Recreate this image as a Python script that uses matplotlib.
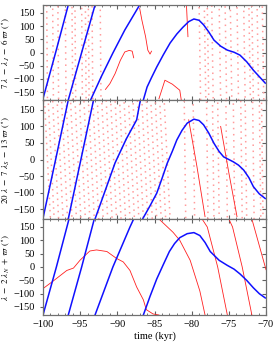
import matplotlib.pyplot as plt
import numpy as np

plt.rcParams['font.family'] = 'Liberation Serif'
plt.rcParams['mathtext.fontset'] = 'stix'

# blue resonant angle, one list of (time, angle) per wrap
blue_top = [
    ([-100, -98.3, -96.6], [-175, 0, 180]),
    ([-96.6, -94.8, -93.0], [-180, 0, 180]),
    ([-93.6, -92.1, -90.6, -89.0, -87.4, -87.0], [-180, -88, -2, 85, 161, 180]),
    ([-86.5, -86.0, -85.4, -84.7, -83.8, -82.9, -82.0, -81.2, -80.4, -79.7, -79.0, -78.4, -77.7,
      -77.0, -76.1, -75.2, -74.3, -73.5, -72.6, -71.7, -70.1],
     [-180, -131, -95, -55, -8, 36, 70, 95, 117, 127, 122, 105, 78, 47, 24, 9, 1, -10, -35, -67, -116]),
]
blue_mid = [
    ([-100, -98.3, -96.6], [-178, 0, 180]),
    ([-96.6, -94.9, -93.2], [-180, 0, 180]),
    ([-93.0, -91.6, -90.3, -88.8, -87.4, -86.9], [-180, -92, -10, 62, 120, 180]),
    ([-86.6, -85.6, -84.7, -84.0, -83.3, -82.6, -82.0, -81.3, -80.6, -79.7, -79.0, -78.4, -77.7,
      -77.0, -76.3, -75.7, -74.4, -73.7, -73.0, -72.3, -71.7, -70.9, -70.1],
     [-180, -140, -102, -58, -12, 25, 59, 88, 110, 122, 118, 105, 80, 49, 24, 8, -7, -17, -32, -55, -82, -104, -118]),
]
blue_bot = [
    ([-100, -98.2, -96.5], [-180, 0, 180]),
    ([-96.6, -94.8, -93.1], [-180, 0, 180]),
    ([-93.0, -90.6, -88.3, -87.8], [-180, 0, 150, 180]),
    ([-86.5, -85.6, -84.7, -83.8, -83.0, -82.3, -81.6, -80.6, -79.7, -78.9, -78.2, -77.5, -76.3,
      -75.2, -74.3, -73.5, -72.6, -71.7, -70.9, -70.1],
     [-180, -110, -45, 10, 58, 88, 110, 125, 129, 118, 92, 58, 25, 6, -8, -26, -50, -78, -100, -116]),
]

# red angle, dense (slow) parts
red_top = [
    ([-91.6, -91.0, -90.3, -89.6, -89.0, -88.4, -88.0, -87.8], [-140, -118, -80, -30, 2, 8, 5, -20]),
    ([-87.0, -86.7, -86.2, -85.9, -85.6, -85.4], [168, 123, 60, 9, -6, 5]),
    ([-84.4, -83.6, -82.6, -81.6, -81.4], [-175, -105, -120, -143, -180]),
    ([-80.7, -80.5], [180, 60]),
]
red_mid = [
    ([-80.4, -79.3, -78.2], [120, -20, -173]),
    ([-76.1, -75.0, -73.9], [100, -40, -173]),
]
red_bot = [
    ([-100, -98.6, -96.8, -95.9, -95.0, -93.7, -92.8, -91.4, -90.1, -89.2, -88.3, -87.4,
      -86.5, -86.1, -85.2, -84.4],
     [-81, -52, -13, -4, 26, 60, 64, 58, 32, 19, -13, -75, -123, -160, -176, -180]),
    ([-84.4, -82.5, -81.6, -80.2, -78.9, -78.2], [180, 130, 100, 25, -90, -180]),
    ([-78.6, -77.9, -76.5, -75.2], [180, 150, 0, -180]),
    ([-75.0, -74.5, -73.2, -71.9], [180, 150, 0, -180]),
    ([-71.9, -71.6, -70.0], [180, 150, -10]),
]

# red angle, fast circulating parts (start time at +180, end time at -180)
streaks_top = [(-99.5, -99.4), (-98.7, -98.6), (-98.0, -97.9), (-97.0, -96.9), (-96.1, -96.0),
               (-95.7, -95.6), (-94.8, -94.7), (-94.3, -94.2), (-93.9, -93.8), (-93.4, -93.3),
               (-92.3, -92.2), (-79.0, -78.8), (-78.3, -78.1), (-77.9, -77.7),
               (-77.3, -77.1), (-76.3, -76.1), (-75.5, -75.3), (-74.8, -74.6), (-73.9, -73.7),
               (-73.0, -72.8), (-72.3, -72.1), (-71.9, -71.7), (-71.2, -71.0), (-70.5, -70.3)]
streaks_mid = [(-99.8, -99.0), (-99.3, -98.5), (-98.7, -97.9), (-98.1, -97.3), (-97.5, -96.7),
               (-96.9, -96.1), (-96.3, -95.5), (-95.7, -94.9), (-95.1, -94.3), (-94.5, -93.7),
               (-93.9, -93.1), (-93.3, -92.5), (-92.7, -91.9), (-92.1, -91.3), (-91.5, -90.7),
               (-90.9, -90.1), (-90.3, -89.5), (-89.7, -88.9), (-89.1, -88.3), (-88.5, -87.7),
               (-87.9, -87.1), (-87.3, -86.5), (-86.7, -85.9), (-86.1, -85.3), (-85.5, -84.7),
               (-84.9, -84.1), (-84.3, -83.5), (-83.7, -82.9), (-81.0, -80.8), (-79.8, -79.6),
               (-78.0, -77.8), (-77.2, -77.0), (-76.5, -76.3), (-75.4, -75.2), (-74.4, -74.2),
               (-73.4, -73.2), (-72.8, -72.6), (-71.8, -71.6), (-70.9, -70.7), (-70.6, -70.4)]

fig = plt.figure(figsize=(2.74, 3.46), dpi=100)
left, width = 43 / 274, 223 / 274
ax1 = fig.add_axes([left, 1 - 100 / 346, width, 95 / 346])
ax2 = fig.add_axes([left, 1 - 219 / 346, width, 119 / 346])
ax3 = fig.add_axes([left, 1 - 315 / 346, width, 96 / 346])

panels = [(ax1, blue_top, red_top, streaks_top, r'$7\ \lambda\ -\ \lambda_J\ -\ 6\ \varpi\ (^\circ)$'),
          (ax2, blue_mid, red_mid, streaks_mid, r'$20\ \lambda\ -\ 7\ \lambda_S\ -\ 13\ \varpi\ (^\circ)$'),
          (ax3, blue_bot, red_bot, [], r'$\lambda\ -\ 2\ \lambda_N\ +\ \varpi\ (^\circ)$')]

for ax, blue, red, streaks, lab in panels:
    for i, (t0, t1) in enumerate(streaks):
        # shift the dot pattern so the streaks do not line up
        ax.plot([t0, t1], [180, -180], color='#ff9c9c', lw=1.1, ls=((i * 1.7) % 4, (1, 3)))
    for t, a in red:
        ax.plot(t, a, color='#ff2020', lw=0.6)
    for t, a in blue:
        ax.plot(t, a, color='#1010ff', lw=1.1)
    ax.set_xlim(-100, -70)
    ax.set_ylim(-180, 180)
    ax.set_yticks([-150, -100, -50, 0, 50, 100, 150])
    ax.set_xticks(np.arange(-100, -69, 5))
    ax.set_xticks(np.arange(-100, -69, 1), minor=True)
    ax.tick_params(axis='x', which='both', direction='in', top=True, labelsize=7.5, color='#606060')
    ax.tick_params(axis='x', which='major', length=3)
    ax.tick_params(axis='x', which='minor', length=1.5)
    ax.tick_params(axis='y', direction='out', length=2.5, labelsize=7.5, color='#606060')
    sec = ax.secondary_yaxis('right')
    sec.set_yticks([-150, -100, -50, 0, 50, 100, 150])
    sec.tick_params(direction='in', length=3, labelright=False, color='#606060')
    sec.spines['right'].set_visible(False)
    for s in ax.spines.values():
        s.set_color('#707070')
        s.set_linewidth(0.9)
    ax.set_ylabel(lab, fontsize=6.5, labelpad=1)

ax1.tick_params(labelbottom=False)
ax2.tick_params(labelbottom=False)
ax3.set_xlabel('time (kyr)', fontsize=7.5, labelpad=2)

fig.savefig('out.png', dpi=100)
